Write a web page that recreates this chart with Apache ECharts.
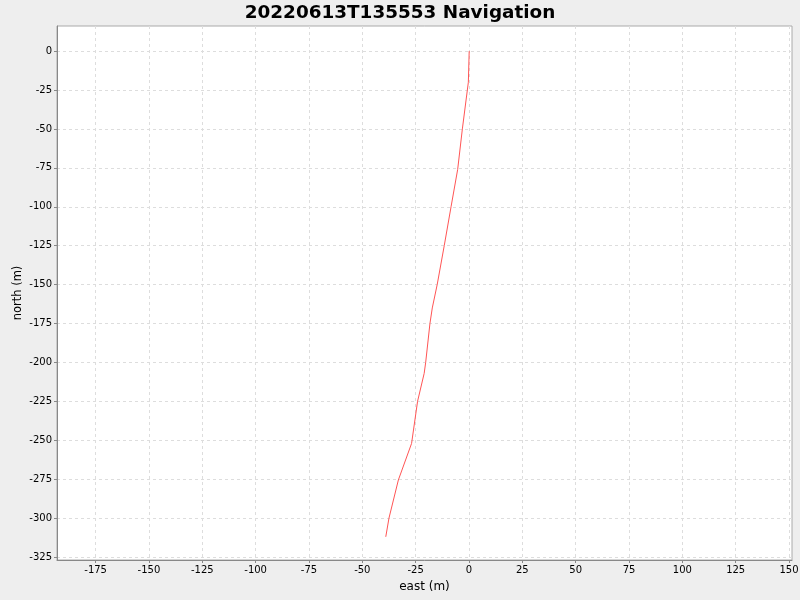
<!DOCTYPE html>
<html>
<head>
<meta charset="utf-8">
<script src="https://cdn.jsdelivr.net/npm/echarts@6/dist/echarts.min.js"></script>
<style>
html,body{margin:0;padding:0;background:#eeeeee;}
#chart{width:800px;height:600px;}
</style>
</head>
<body>
<div id="chart"></div>
<script>
var title = '20220613T135553 Navigation';
var east  = [0.1, -0.3, -3.1, -5.3, -8.4, -11.6, -14.9, -17.2, -18.3, -20.3, -21.0, -24.1, -26.9, -33.1, -37.5, -39.0];
var north = [0, -20, -50, -76, -100, -125, -150, -165, -175, -200, -207, -225, -252, -275.5, -300, -312];
var xTicks = [-175, -150, -125, -100, -75, -50, -25, 0, 25, 50, 75, 100, 125, 150];
var yTicks = [0, -25, -50, -75, -100, -125, -150, -175, -200, -225, -250, -275, -300, -325];

var pts = east.map(function (e, i) { return [e, north[i]]; });
var font = 'DejaVu Sans';
var chart = echarts.init(document.getElementById('chart'));
chart.setOption({
  backgroundColor: '#eeeeee',
  animation: false,
  title: {
    text: title, left: 'center', top: 4, padding: 0,
    textStyle: { fontFamily: font, fontWeight: 'bold', fontSize: 18.4, color: '#000' }
  },
  grid: {
    left: 57, right: 8, top: 26, bottom: 40, outerBoundsMode: 'none', containLabel: false,
    show: true, backgroundColor: '#ffffff', borderColor: '#aaaaaa', borderWidth: 1
  },
  xAxis: {
    type: 'value', min: -193.1, max: 151.4,
    name: 'east (m)', nameLocation: 'middle', nameGap: 21,
    nameTextStyle: { fontFamily: font, fontSize: 12, color: '#000' },
    axisLine: { show: true, onZero: false, lineStyle: { color: '#888888' } },
    axisTick: { show: true, length: 3, customValues: xTicks, lineStyle: { color: '#888888' } },
    axisLabel: { customValues: xTicks, fontFamily: font, fontSize: 10, color: '#000', margin: 5 },
    splitLine: { show: true, lineStyle: { color: '#dddddd', type: [3, 3] } }
  },
  yAxis: {
    type: 'value', min: -326.9, max: 16.1,
    name: 'north (m)', nameLocation: 'middle', nameGap: 33, nameRotate: 90, nameMoveOverlap: false,
    nameTextStyle: { fontFamily: font, fontSize: 11.5, color: '#000' },
    axisLine: { show: true, onZero: false, lineStyle: { color: '#888888' } },
    axisTick: { show: true, length: 3, customValues: yTicks, lineStyle: { color: '#888888' } },
    axisLabel: { customValues: yTicks, fontFamily: font, fontSize: 10, color: '#000', margin: 5 },
    splitLine: { show: true, lineStyle: { color: '#dddddd', type: [3, 3] } }
  },
  series: [{
    type: 'line', data: pts, symbol: 'none',
    lineStyle: { color: '#ff5555', width: 1 }
  }]
});
</script>
</body>
</html>
